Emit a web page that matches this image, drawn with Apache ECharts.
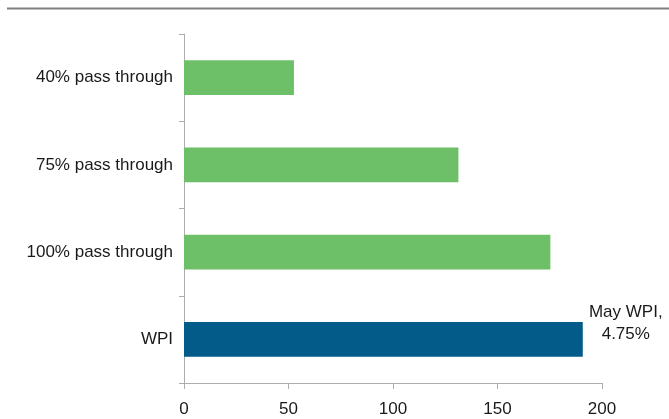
<!DOCTYPE html>
<html>
<head>
<meta charset="utf-8">
<script src="https://cdn.jsdelivr.net/npm/echarts@6/dist/echarts.min.js"></script>
<style>
  html, body { margin: 0; padding: 0; background: #fff; }
  #chart { width: 669px; height: 419px; }
</style>
</head>
<body>
<div id="chart"></div>
<script>
// Categories listed bottom to top
const categories = ['WPI', '100% pass through', '75% pass through', '40% pass through'];
const values = [190.8, 175.3, 131.3, 52.6];
const barColors = ['#035B8A', '#6DC068', '#6DC068', '#6DC068'];
const xTicks = [0, 50, 100, 150, 200];
const wpiNote = 'May WPI,\n4.75%';

const FONT = '"Liberation Sans", Arial, sans-serif';
const AXIS_GRAY = '#ADADAD';

const chart = echarts.init(document.getElementById('chart'), null, { renderer: 'canvas' });

const seriesData = values.map((v, i) => {
  const item = { value: v, itemStyle: { color: barColors[i] } };
  if (categories[i] === 'WPI') {
    item.label = {
      show: true,
      position: 'right',
      distance: 0,
      align: 'center',
      verticalAlign: 'middle',
      offset: [43, -16],
      formatter: wpiNote,
      fontFamily: FONT,
      fontSize: 17,
      lineHeight: 22,
      color: '#1a1a1a'
    };
  }
  return item;
});

chart.setOption({
  animation: false,
  backgroundColor: '#ffffff',
  grid: { left: 184, right: 67, top: 34, height: 349, containLabel: false },
  graphic: [{
    type: 'line',
    shape: { x1: 7, y1: 8.5, x2: 669, y2: 8.5 },
    style: { stroke: '#808080', lineWidth: 2 }
  }],
  xAxis: {
    type: 'value',
    min: xTicks[0],
    max: xTicks[xTicks.length - 1],
    interval: xTicks[1] - xTicks[0],
    splitLine: { show: false },
    axisLine: { show: true, lineStyle: { color: AXIS_GRAY, width: 1 } },
    axisTick: { show: true, length: 6, lineStyle: { color: AXIS_GRAY } },
    axisLabel: { margin: 18, fontFamily: FONT, fontSize: 17, color: '#1a1a1a' }
  },
  yAxis: {
    type: 'category',
    data: categories,
    axisLine: { show: true, lineStyle: { color: AXIS_GRAY, width: 1 } },
    axisTick: { show: true, length: 5, alignWithLabel: false, lineStyle: { color: AXIS_GRAY } },
    axisLabel: { margin: 11, fontFamily: FONT, fontSize: 17, color: '#1a1a1a' }
  },
  series: [{
    type: 'bar',
    data: seriesData,
    barCategoryGap: '60%'
  }]
});
</script>
</body>
</html>
